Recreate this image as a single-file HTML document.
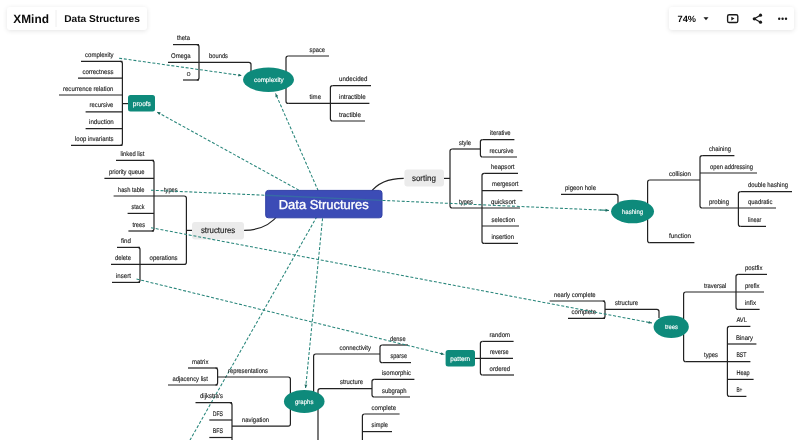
<!DOCTYPE html>
<html><head><meta charset="utf-8"><style>
html,body{margin:0;padding:0;width:800px;height:440px;overflow:hidden;background:#fff;}
body{position:relative;font-family:"Liberation Sans",sans-serif;}
svg{position:absolute;left:0;top:0;will-change:transform;}
svg text{font-family:"Liberation Sans",sans-serif;text-rendering:geometricPrecision;}
.bar{position:absolute;background:#fff;border-radius:3px;box-shadow:0 1px 5px rgba(0,0,0,0.11);}
</style></head><body>
<svg width="800" height="440" viewBox="0 0 800 440">
<path d="M324.00 204.00L157.00 112.00" stroke="#27857a" stroke-width="1.05" stroke-dasharray="3 1.8" fill="none"/>
<path d="M157.00 112.00L160.68 112.37L159.28 114.91Z" fill="#1e6b60"/>
<path d="M324.00 204.00L275.50 93.50" stroke="#27857a" stroke-width="1.05" stroke-dasharray="3 1.8" fill="none"/>
<path d="M275.50 93.50L278.19 96.03L275.54 97.20Z" fill="#1e6b60"/>
<path d="M324.00 204.00L305.60 388.00" stroke="#27857a" stroke-width="1.05" stroke-dasharray="3 1.8" fill="none"/>
<path d="M305.60 388.00L304.50 384.47L307.38 384.76Z" fill="#1e6b60"/>
<path d="M324.00 204.00L160.00 493.00" stroke="#27857a" stroke-width="1.05" stroke-dasharray="3 1.8" fill="none"/>
<path d="M120.20 61.40Q122.40 61.40 122.40 63.60V143.20Q122.40 145.40 120.20 145.40" fill="none" stroke="#222222" stroke-width="1.2"/>
<path d="M81.00 61.40H122.40" fill="none" stroke="#222222" stroke-width="1.2"/>
<text x="85.00" y="57.00" font-size="6.7" fill="#1c1c1c" font-weight="400" stroke="#1c1c1c" stroke-width="0.14" textLength="28.60" lengthAdjust="spacingAndGlyphs">complexity</text>
<path d="M78.00 78.20H122.40" fill="none" stroke="#222222" stroke-width="1.2"/>
<text x="82.40" y="73.80" font-size="6.7" fill="#1c1c1c" font-weight="400" stroke="#1c1c1c" stroke-width="0.14" textLength="31.00" lengthAdjust="spacingAndGlyphs">correctness</text>
<path d="M59.00 95.00H122.40" fill="none" stroke="#222222" stroke-width="1.2"/>
<text x="63.00" y="90.60" font-size="6.7" fill="#1c1c1c" font-weight="400" stroke="#1c1c1c" stroke-width="0.14" textLength="50.40" lengthAdjust="spacingAndGlyphs">recurrence relation</text>
<path d="M85.60 111.80H122.40" fill="none" stroke="#222222" stroke-width="1.2"/>
<text x="89.60" y="107.40" font-size="6.7" fill="#1c1c1c" font-weight="400" stroke="#1c1c1c" stroke-width="0.14" textLength="23.80" lengthAdjust="spacingAndGlyphs">recursive</text>
<path d="M85.60 128.60H122.40" fill="none" stroke="#222222" stroke-width="1.2"/>
<text x="89.00" y="124.20" font-size="6.7" fill="#1c1c1c" font-weight="400" stroke="#1c1c1c" stroke-width="0.14" textLength="24.80" lengthAdjust="spacingAndGlyphs">induction</text>
<path d="M71.00 145.40H122.40" fill="none" stroke="#222222" stroke-width="1.2"/>
<text x="75.00" y="141.00" font-size="6.7" fill="#1c1c1c" font-weight="400" stroke="#1c1c1c" stroke-width="0.14" textLength="38.40" lengthAdjust="spacingAndGlyphs">loop invariants</text>
<path d="M122.40 103.60H128.00" fill="none" stroke="#222222" stroke-width="1.2"/>
<rect x="128" y="95" width="27" height="16.6" rx="2.5" fill="#0e8a7b"/>
<text x="132.80" y="106.00" font-size="6.9" fill="#fff" font-weight="400" stroke="#fff" stroke-width="0.15" textLength="18.00" lengthAdjust="spacingAndGlyphs">proofs</text>
<path d="M196.80 44.60Q199.00 44.60 199.00 46.80V77.80Q199.00 80.00 196.80 80.00" fill="none" stroke="#222222" stroke-width="1.2"/>
<path d="M173.00 44.60H199.00" fill="none" stroke="#222222" stroke-width="1.2"/>
<text x="177.00" y="40.20" font-size="6.7" fill="#1c1c1c" font-weight="400" stroke="#1c1c1c" stroke-width="0.14" textLength="13.00" lengthAdjust="spacingAndGlyphs">theta</text>
<path d="M183.00 80.00H199.00" fill="none" stroke="#222222" stroke-width="1.2"/>
<text x="186.40" y="75.80" font-size="7.4" fill="#1c1c1c" font-weight="400" textLength="4.20" lengthAdjust="spacingAndGlyphs">o</text>
<text x="171.00" y="58.00" font-size="6.7" fill="#1c1c1c" font-weight="400" stroke="#1c1c1c" stroke-width="0.14" textLength="19.60" lengthAdjust="spacingAndGlyphs">Omega</text>
<path d="M168 62.4H248.80Q251 62.4 251 64.60V75" fill="none" stroke="#222222" stroke-width="1.2"/>
<text x="209.00" y="58.00" font-size="6.7" fill="#1c1c1c" font-weight="400" stroke="#1c1c1c" stroke-width="0.14" textLength="19.00" lengthAdjust="spacingAndGlyphs">bounds</text>
<path d="M288.20 56.00Q286.00 56.00 286.00 58.20V101.20Q286.00 103.40 288.20 103.40" fill="none" stroke="#222222" stroke-width="1.2"/>
<path d="M288.20 56.00H329.00" fill="none" stroke="#222222" stroke-width="1.2"/>
<text x="309.60" y="51.60" font-size="6.7" fill="#1c1c1c" font-weight="400" stroke="#1c1c1c" stroke-width="0.14" textLength="15.40" lengthAdjust="spacingAndGlyphs">space</text>
<path d="M288.20 103.40H369.40" fill="none" stroke="#222222" stroke-width="1.2"/>
<text x="309.60" y="99.00" font-size="6.7" fill="#1c1c1c" font-weight="400" stroke="#1c1c1c" stroke-width="0.14" textLength="11.40" lengthAdjust="spacingAndGlyphs">time</text>
<path d="M332.60 85.60Q330.40 85.60 330.40 87.80V118.80Q330.40 121.00 332.60 121.00" fill="none" stroke="#222222" stroke-width="1.2"/>
<path d="M332.60 85.60H371.00" fill="none" stroke="#222222" stroke-width="1.2"/>
<text x="339.00" y="81.20" font-size="6.7" fill="#1c1c1c" font-weight="400" stroke="#1c1c1c" stroke-width="0.14" textLength="28.40" lengthAdjust="spacingAndGlyphs">undecided</text>
<text x="339.00" y="99.00" font-size="6.7" fill="#1c1c1c" font-weight="400" stroke="#1c1c1c" stroke-width="0.14" textLength="26.60" lengthAdjust="spacingAndGlyphs">intractible</text>
<path d="M332.60 121.00H365.00" fill="none" stroke="#222222" stroke-width="1.2"/>
<text x="339.00" y="116.60" font-size="6.7" fill="#1c1c1c" font-weight="400" stroke="#1c1c1c" stroke-width="0.14" textLength="22.00" lengthAdjust="spacingAndGlyphs">tractible</text>
<ellipse cx="268.5" cy="79.7" rx="25.5" ry="12.2" fill="#0e8a7b"/>
<text x="254.00" y="81.90" font-size="6.5" fill="#fff" font-weight="400" stroke="#fff" stroke-width="0.15" textLength="29.70" lengthAdjust="spacingAndGlyphs">complexity</text>
<path d="M151.80 160.40Q154.00 160.40 154.00 162.60V228.80Q154.00 231.00 151.80 231.00" fill="none" stroke="#222222" stroke-width="1.2"/>
<path d="M116.00 160.40H154.00" fill="none" stroke="#222222" stroke-width="1.2"/>
<text x="120.40" y="156.00" font-size="6.7" fill="#1c1c1c" font-weight="400" stroke="#1c1c1c" stroke-width="0.14" textLength="24.00" lengthAdjust="spacingAndGlyphs">linked list</text>
<path d="M104.40 178.40H154.00" fill="none" stroke="#222222" stroke-width="1.2"/>
<text x="109.00" y="174.00" font-size="6.7" fill="#1c1c1c" font-weight="400" stroke="#1c1c1c" stroke-width="0.14" textLength="35.40" lengthAdjust="spacingAndGlyphs">priority queue</text>
<text x="118.00" y="191.60" font-size="6.7" fill="#1c1c1c" font-weight="400" stroke="#1c1c1c" stroke-width="0.14" textLength="26.40" lengthAdjust="spacingAndGlyphs">hash table</text>
<path d="M127.60 213.40H154.00" fill="none" stroke="#222222" stroke-width="1.2"/>
<text x="131.60" y="209.00" font-size="6.7" fill="#1c1c1c" font-weight="400" stroke="#1c1c1c" stroke-width="0.14" textLength="12.80" lengthAdjust="spacingAndGlyphs">stack</text>
<path d="M128.40 231.00H154.00" fill="none" stroke="#222222" stroke-width="1.2"/>
<text x="132.40" y="226.60" font-size="6.7" fill="#1c1c1c" font-weight="400" stroke="#1c1c1c" stroke-width="0.14" textLength="12.60" lengthAdjust="spacingAndGlyphs">trees</text>
<path d="M113.6 196H184.20Q186.4 196 186.4 198.20V262.20Q186.4 264.4 184.20 264.4H111" fill="none" stroke="#222222" stroke-width="1.2"/>
<text x="164.00" y="191.60" font-size="6.7" fill="#1c1c1c" font-weight="400" stroke="#1c1c1c" stroke-width="0.14" textLength="13.60" lengthAdjust="spacingAndGlyphs">types</text>
<text x="149.60" y="260.00" font-size="6.7" fill="#1c1c1c" font-weight="400" stroke="#1c1c1c" stroke-width="0.14" textLength="28.00" lengthAdjust="spacingAndGlyphs">operations</text>
<path d="M137.80 247.40Q140.00 247.40 140.00 249.60V280.20Q140.00 282.40 137.80 282.40" fill="none" stroke="#222222" stroke-width="1.2"/>
<path d="M117.00 247.40H140.00" fill="none" stroke="#222222" stroke-width="1.2"/>
<text x="121.00" y="243.00" font-size="6.7" fill="#1c1c1c" font-weight="400" stroke="#1c1c1c" stroke-width="0.14" textLength="10.00" lengthAdjust="spacingAndGlyphs">find</text>
<text x="115.00" y="260.00" font-size="6.7" fill="#1c1c1c" font-weight="400" stroke="#1c1c1c" stroke-width="0.14" textLength="16.00" lengthAdjust="spacingAndGlyphs">delete</text>
<path d="M112.00 282.40H140.00" fill="none" stroke="#222222" stroke-width="1.2"/>
<text x="116.00" y="278.00" font-size="6.7" fill="#1c1c1c" font-weight="400" stroke="#1c1c1c" stroke-width="0.14" textLength="15.00" lengthAdjust="spacingAndGlyphs">insert</text>
<path d="M186.40 230.40H192.00" fill="none" stroke="#222222" stroke-width="1.2"/>
<rect x="192" y="222" width="52" height="17.4" rx="3" fill="#ebebeb"/>
<text x="200.90" y="232.90" font-size="8.4" fill="#1c1c1c" font-weight="400" stroke="#1c1c1c" stroke-width="0.15" textLength="34.40" lengthAdjust="spacingAndGlyphs">structures</text>
<path d="M244.1 230.3C258 230.3 270 226 279 214" fill="none" stroke="#222222" stroke-width="1.2"/>
<path d="M403.7 178.3C390 178.3 378 182 370 193" fill="none" stroke="#222222" stroke-width="1.2"/>
<rect x="404.4" y="169.6" width="39.6" height="17" rx="3" fill="#ebebeb"/>
<text x="411.90" y="180.70" font-size="8.4" fill="#1c1c1c" font-weight="400" stroke="#1c1c1c" stroke-width="0.15" textLength="24.00" lengthAdjust="spacingAndGlyphs">sorting</text>
<path d="M444.00 178.40H450.00" fill="none" stroke="#222222" stroke-width="1.2"/>
<path d="M452.20 149.00Q450.00 149.00 450.00 151.20V205.80Q450.00 208.00 452.20 208.00" fill="none" stroke="#222222" stroke-width="1.2"/>
<path d="M452.20 149.00H480.40" fill="none" stroke="#222222" stroke-width="1.2"/>
<text x="459.00" y="144.60" font-size="6.7" fill="#1c1c1c" font-weight="400" stroke="#1c1c1c" stroke-width="0.14" textLength="12.00" lengthAdjust="spacingAndGlyphs">style</text>
<path d="M482.60 139.60Q480.40 139.60 480.40 141.80V154.80Q480.40 157.00 482.60 157.00" fill="none" stroke="#222222" stroke-width="1.2"/>
<path d="M482.60 139.60H514.40" fill="none" stroke="#222222" stroke-width="1.2"/>
<text x="490.00" y="135.20" font-size="6.7" fill="#1c1c1c" font-weight="400" stroke="#1c1c1c" stroke-width="0.14" textLength="20.60" lengthAdjust="spacingAndGlyphs">iterative</text>
<path d="M482.60 157.00H517.00" fill="none" stroke="#222222" stroke-width="1.2"/>
<text x="489.60" y="152.60" font-size="6.7" fill="#1c1c1c" font-weight="400" stroke="#1c1c1c" stroke-width="0.14" textLength="24.00" lengthAdjust="spacingAndGlyphs">recursive</text>
<path d="M452.20 208.00H520.00" fill="none" stroke="#222222" stroke-width="1.2"/>
<text x="459.00" y="203.60" font-size="6.7" fill="#1c1c1c" font-weight="400" stroke="#1c1c1c" stroke-width="0.14" textLength="14.00" lengthAdjust="spacingAndGlyphs">types</text>
<path d="M484.20 173.40Q482.00 173.40 482.00 175.60V241.20Q482.00 243.40 484.20 243.40" fill="none" stroke="#222222" stroke-width="1.2"/>
<path d="M484.20 173.40H518.00" fill="none" stroke="#222222" stroke-width="1.2"/>
<text x="491.00" y="169.00" font-size="6.7" fill="#1c1c1c" font-weight="400" stroke="#1c1c1c" stroke-width="0.14" textLength="23.40" lengthAdjust="spacingAndGlyphs">heapsort</text>
<path d="M482.00 190.60H522.40" fill="none" stroke="#222222" stroke-width="1.2"/>
<text x="492.00" y="186.20" font-size="6.7" fill="#1c1c1c" font-weight="400" stroke="#1c1c1c" stroke-width="0.14" textLength="26.40" lengthAdjust="spacingAndGlyphs">mergesort</text>
<text x="491.00" y="203.60" font-size="6.7" fill="#1c1c1c" font-weight="400" stroke="#1c1c1c" stroke-width="0.14" textLength="24.60" lengthAdjust="spacingAndGlyphs">quicksort</text>
<path d="M482.00 226.00H519.00" fill="none" stroke="#222222" stroke-width="1.2"/>
<text x="491.60" y="221.60" font-size="6.7" fill="#1c1c1c" font-weight="400" stroke="#1c1c1c" stroke-width="0.14" textLength="23.40" lengthAdjust="spacingAndGlyphs">selection</text>
<path d="M484.20 243.40H518.00" fill="none" stroke="#222222" stroke-width="1.2"/>
<text x="491.40" y="239.00" font-size="6.7" fill="#1c1c1c" font-weight="400" stroke="#1c1c1c" stroke-width="0.14" textLength="22.60" lengthAdjust="spacingAndGlyphs">insertion</text>
<path d="M561 194.4H615.80Q618 194.4 618 196.60V205" fill="none" stroke="#222222" stroke-width="1.2"/>
<text x="565.00" y="190.00" font-size="6.7" fill="#1c1c1c" font-weight="400" stroke="#1c1c1c" stroke-width="0.14" textLength="31.00" lengthAdjust="spacingAndGlyphs">pigeon hole</text>
<path d="M649.80 180.00Q647.60 180.00 647.60 182.20V240.40Q647.60 242.60 649.80 242.60" fill="none" stroke="#222222" stroke-width="1.2"/>
<path d="M649.80 180.00H700.00" fill="none" stroke="#222222" stroke-width="1.2"/>
<text x="669.00" y="175.60" font-size="6.7" fill="#1c1c1c" font-weight="400" stroke="#1c1c1c" stroke-width="0.14" textLength="22.00" lengthAdjust="spacingAndGlyphs">collision</text>
<path d="M649.80 242.60H694.40" fill="none" stroke="#222222" stroke-width="1.2"/>
<text x="669.00" y="238.20" font-size="6.7" fill="#1c1c1c" font-weight="400" stroke="#1c1c1c" stroke-width="0.14" textLength="22.00" lengthAdjust="spacingAndGlyphs">function</text>
<path d="M702.20 155.60Q700.00 155.60 700.00 157.80V205.80Q700.00 208.00 702.20 208.00" fill="none" stroke="#222222" stroke-width="1.2"/>
<path d="M702.20 155.60H734.40" fill="none" stroke="#222222" stroke-width="1.2"/>
<text x="709.00" y="151.20" font-size="6.7" fill="#1c1c1c" font-weight="400" stroke="#1c1c1c" stroke-width="0.14" textLength="22.00" lengthAdjust="spacingAndGlyphs">chaining</text>
<path d="M700.00 173.00H757.00" fill="none" stroke="#222222" stroke-width="1.2"/>
<text x="710.00" y="168.60" font-size="6.7" fill="#1c1c1c" font-weight="400" stroke="#1c1c1c" stroke-width="0.14" textLength="43.00" lengthAdjust="spacingAndGlyphs">open addressing</text>
<path d="M702.20 208.00H776.00" fill="none" stroke="#222222" stroke-width="1.2"/>
<text x="709.00" y="203.60" font-size="6.7" fill="#1c1c1c" font-weight="400" stroke="#1c1c1c" stroke-width="0.14" textLength="20.00" lengthAdjust="spacingAndGlyphs">probing</text>
<path d="M740.60 191.60Q738.40 191.60 738.40 193.80V224.20Q738.40 226.40 740.60 226.40" fill="none" stroke="#222222" stroke-width="1.2"/>
<path d="M740.60 191.60H792.00" fill="none" stroke="#222222" stroke-width="1.2"/>
<text x="748.00" y="187.20" font-size="6.7" fill="#1c1c1c" font-weight="400" stroke="#1c1c1c" stroke-width="0.14" textLength="40.00" lengthAdjust="spacingAndGlyphs">double hashing</text>
<text x="748.00" y="203.60" font-size="6.7" fill="#1c1c1c" font-weight="400" stroke="#1c1c1c" stroke-width="0.14" textLength="24.40" lengthAdjust="spacingAndGlyphs">quadratic</text>
<path d="M740.60 226.40H766.00" fill="none" stroke="#222222" stroke-width="1.2"/>
<text x="748.00" y="222.00" font-size="6.7" fill="#1c1c1c" font-weight="400" stroke="#1c1c1c" stroke-width="0.14" textLength="13.40" lengthAdjust="spacingAndGlyphs">linear</text>
<ellipse cx="632.55" cy="211.5" rx="21.5" ry="11.8" fill="#0e8a7b"/>
<text x="622.00" y="213.90" font-size="6.5" fill="#fff" font-weight="400" stroke="#fff" stroke-width="0.15" textLength="21.10" lengthAdjust="spacingAndGlyphs">hashing</text>
<path d="M602.80 301.00Q605.00 301.00 605.00 303.20V316.20Q605.00 318.40 602.80 318.40" fill="none" stroke="#222222" stroke-width="1.2"/>
<path d="M549.60 301.00H605.00" fill="none" stroke="#222222" stroke-width="1.2"/>
<text x="554.00" y="296.60" font-size="6.7" fill="#1c1c1c" font-weight="400" stroke="#1c1c1c" stroke-width="0.14" textLength="41.60" lengthAdjust="spacingAndGlyphs">nearly complete</text>
<path d="M568.00 318.40H605.00" fill="none" stroke="#222222" stroke-width="1.2"/>
<text x="571.60" y="314.00" font-size="6.7" fill="#1c1c1c" font-weight="400" stroke="#1c1c1c" stroke-width="0.14" textLength="24.40" lengthAdjust="spacingAndGlyphs">complete</text>
<path d="M605 309.4H656.80Q659 309.4 659 311.60V318" fill="none" stroke="#222222" stroke-width="1.2"/>
<text x="615.00" y="305.00" font-size="6.7" fill="#1c1c1c" font-weight="400" stroke="#1c1c1c" stroke-width="0.14" textLength="23.00" lengthAdjust="spacingAndGlyphs">structure</text>
<path d="M685.80 292.00Q683.60 292.00 683.60 294.20V359.40Q683.60 361.60 685.80 361.60" fill="none" stroke="#222222" stroke-width="1.2"/>
<path d="M685.80 292.00H764.00" fill="none" stroke="#222222" stroke-width="1.2"/>
<text x="704.00" y="287.60" font-size="6.7" fill="#1c1c1c" font-weight="400" stroke="#1c1c1c" stroke-width="0.14" textLength="22.40" lengthAdjust="spacingAndGlyphs">traversal</text>
<path d="M738.20 274.40Q736.00 274.40 736.00 276.60V307.20Q736.00 309.40 738.20 309.40" fill="none" stroke="#222222" stroke-width="1.2"/>
<path d="M738.20 274.40H767.00" fill="none" stroke="#222222" stroke-width="1.2"/>
<text x="745.00" y="270.00" font-size="6.7" fill="#1c1c1c" font-weight="400" stroke="#1c1c1c" stroke-width="0.14" textLength="17.40" lengthAdjust="spacingAndGlyphs">postfix</text>
<text x="745.00" y="287.60" font-size="6.7" fill="#1c1c1c" font-weight="400" stroke="#1c1c1c" stroke-width="0.14" textLength="14.60" lengthAdjust="spacingAndGlyphs">prefix</text>
<path d="M738.20 309.40H759.60" fill="none" stroke="#222222" stroke-width="1.2"/>
<text x="745.00" y="305.00" font-size="6.7" fill="#1c1c1c" font-weight="400" stroke="#1c1c1c" stroke-width="0.14" textLength="11.00" lengthAdjust="spacingAndGlyphs">infix</text>
<path d="M685.80 361.60H750.40" fill="none" stroke="#222222" stroke-width="1.2"/>
<text x="704.00" y="357.20" font-size="6.7" fill="#1c1c1c" font-weight="400" stroke="#1c1c1c" stroke-width="0.14" textLength="14.00" lengthAdjust="spacingAndGlyphs">types</text>
<path d="M729.60 326.40Q727.40 326.40 727.40 328.60V394.20Q727.40 396.40 729.60 396.40" fill="none" stroke="#222222" stroke-width="1.2"/>
<path d="M729.60 326.40H750.40" fill="none" stroke="#222222" stroke-width="1.2"/>
<text x="736.40" y="322.00" font-size="6.7" fill="#1c1c1c" font-weight="400" stroke="#1c1c1c" stroke-width="0.14" textLength="10.60" lengthAdjust="spacingAndGlyphs">AVL</text>
<path d="M727.40 344.00H756.40" fill="none" stroke="#222222" stroke-width="1.2"/>
<text x="736.00" y="339.60" font-size="6.7" fill="#1c1c1c" font-weight="400" stroke="#1c1c1c" stroke-width="0.14" textLength="17.00" lengthAdjust="spacingAndGlyphs">Binary</text>
<text x="736.40" y="357.20" font-size="6.7" fill="#1c1c1c" font-weight="400" stroke="#1c1c1c" stroke-width="0.14" textLength="10.00" lengthAdjust="spacingAndGlyphs">BST</text>
<path d="M727.40 379.40H753.60" fill="none" stroke="#222222" stroke-width="1.2"/>
<text x="736.40" y="375.00" font-size="6.7" fill="#1c1c1c" font-weight="400" stroke="#1c1c1c" stroke-width="0.14" textLength="13.20" lengthAdjust="spacingAndGlyphs">Heap</text>
<path d="M729.60 396.40H746.40" fill="none" stroke="#222222" stroke-width="1.2"/>
<text x="736.40" y="392.00" font-size="6.7" fill="#1c1c1c" font-weight="400" stroke="#1c1c1c" stroke-width="0.14" textLength="6.00" lengthAdjust="spacingAndGlyphs">B+</text>
<ellipse cx="671.2" cy="326.8" rx="17.65" ry="11.3" fill="#0e8a7b"/>
<text x="665.00" y="329.30" font-size="6.5" fill="#fff" font-weight="400" stroke="#fff" stroke-width="0.15" textLength="13.00" lengthAdjust="spacingAndGlyphs">trees</text>
<rect x="445.6" y="350" width="29.4" height="16.6" rx="2.5" fill="#0e8a7b"/>
<text x="450.30" y="360.80" font-size="6.6" fill="#fff" font-weight="400" stroke="#fff" stroke-width="0.15" textLength="19.80" lengthAdjust="spacingAndGlyphs">pattern</text>
<path d="M475.00 358.40H480.40" fill="none" stroke="#222222" stroke-width="1.2"/>
<path d="M482.60 341.40Q480.40 341.40 480.40 343.60V372.80Q480.40 375.00 482.60 375.00" fill="none" stroke="#222222" stroke-width="1.2"/>
<path d="M482.60 341.40H513.60" fill="none" stroke="#222222" stroke-width="1.2"/>
<text x="489.60" y="337.00" font-size="6.7" fill="#1c1c1c" font-weight="400" stroke="#1c1c1c" stroke-width="0.14" textLength="20.40" lengthAdjust="spacingAndGlyphs">random</text>
<path d="M480.40 358.40H513.00" fill="none" stroke="#222222" stroke-width="1.2"/>
<text x="490.00" y="354.00" font-size="6.7" fill="#1c1c1c" font-weight="400" stroke="#1c1c1c" stroke-width="0.14" textLength="18.60" lengthAdjust="spacingAndGlyphs">reverse</text>
<path d="M482.60 375.00H514.00" fill="none" stroke="#222222" stroke-width="1.2"/>
<text x="489.60" y="370.60" font-size="6.7" fill="#1c1c1c" font-weight="400" stroke="#1c1c1c" stroke-width="0.14" textLength="20.40" lengthAdjust="spacingAndGlyphs">ordered</text>
<path d="M217.6 377H288.20Q290.4 377 290.4 379.20V424.00Q290.4 426.2 288.20 426.2H232" fill="none" stroke="#222222" stroke-width="1.2"/>
<text x="228.00" y="372.60" font-size="6.7" fill="#1c1c1c" font-weight="400" stroke="#1c1c1c" stroke-width="0.14" textLength="40.00" lengthAdjust="spacingAndGlyphs">representations</text>
<text x="242.00" y="421.80" font-size="6.7" fill="#1c1c1c" font-weight="400" stroke="#1c1c1c" stroke-width="0.14" textLength="27.00" lengthAdjust="spacingAndGlyphs">navigation</text>
<path d="M215.40 368.00Q217.60 368.00 217.60 370.20V382.80Q217.60 385.00 215.40 385.00" fill="none" stroke="#222222" stroke-width="1.2"/>
<path d="M188.00 368.00H217.60" fill="none" stroke="#222222" stroke-width="1.2"/>
<text x="192.00" y="363.60" font-size="6.7" fill="#1c1c1c" font-weight="400" stroke="#1c1c1c" stroke-width="0.14" textLength="16.40" lengthAdjust="spacingAndGlyphs">matrix</text>
<path d="M168.00 385.00H217.60" fill="none" stroke="#222222" stroke-width="1.2"/>
<text x="172.40" y="380.60" font-size="6.7" fill="#1c1c1c" font-weight="400" stroke="#1c1c1c" stroke-width="0.14" textLength="35.60" lengthAdjust="spacingAndGlyphs">adjacency list</text>
<path d="M229.80 402.7Q232 402.7 232 404.90V445" fill="none" stroke="#222222" stroke-width="1.2"/>
<path d="M195.50 402.70H232.00" fill="none" stroke="#222222" stroke-width="1.2"/>
<text x="200.00" y="398.30" font-size="6.7" fill="#1c1c1c" font-weight="400" stroke="#1c1c1c" stroke-width="0.14" textLength="23.00" lengthAdjust="spacingAndGlyphs">dijkstra's</text>
<path d="M209.30 420.00H232.00" fill="none" stroke="#222222" stroke-width="1.2"/>
<text x="212.70" y="415.60" font-size="6.7" fill="#1c1c1c" font-weight="400" stroke="#1c1c1c" stroke-width="0.14" textLength="10.30" lengthAdjust="spacingAndGlyphs">DFS</text>
<path d="M209.30 437.50H232.00" fill="none" stroke="#222222" stroke-width="1.2"/>
<text x="212.70" y="433.10" font-size="6.7" fill="#1c1c1c" font-weight="400" stroke="#1c1c1c" stroke-width="0.14" textLength="10.30" lengthAdjust="spacingAndGlyphs">BFS</text>
<path d="M380 354H315.80Q313.6 354 313.6 356.20V395" fill="none" stroke="#222222" stroke-width="1.2"/>
<text x="339.60" y="349.60" font-size="6.7" fill="#1c1c1c" font-weight="400" stroke="#1c1c1c" stroke-width="0.14" textLength="31.40" lengthAdjust="spacingAndGlyphs">connectivity</text>
<path d="M382.20 345.00Q380.00 345.00 380.00 347.20V360.40Q380.00 362.60 382.20 362.60" fill="none" stroke="#222222" stroke-width="1.2"/>
<path d="M382.20 345.00H408.00" fill="none" stroke="#222222" stroke-width="1.2"/>
<text x="390.00" y="340.60" font-size="6.7" fill="#1c1c1c" font-weight="400" stroke="#1c1c1c" stroke-width="0.14" textLength="15.60" lengthAdjust="spacingAndGlyphs">dense</text>
<path d="M382.20 362.60H411.00" fill="none" stroke="#222222" stroke-width="1.2"/>
<text x="390.40" y="358.20" font-size="6.7" fill="#1c1c1c" font-weight="400" stroke="#1c1c1c" stroke-width="0.14" textLength="16.60" lengthAdjust="spacingAndGlyphs">sparse</text>
<path d="M372 388.6H320.20Q318 388.6 318 390.80V445" fill="none" stroke="#222222" stroke-width="1.2"/>
<text x="340.00" y="384.20" font-size="6.7" fill="#1c1c1c" font-weight="400" stroke="#1c1c1c" stroke-width="0.14" textLength="23.00" lengthAdjust="spacingAndGlyphs">structure</text>
<path d="M374.20 379.40Q372.00 379.40 372.00 381.60V394.80Q372.00 397.00 374.20 397.00" fill="none" stroke="#222222" stroke-width="1.2"/>
<path d="M374.20 379.40H414.40" fill="none" stroke="#222222" stroke-width="1.2"/>
<text x="382.00" y="375.00" font-size="6.7" fill="#1c1c1c" font-weight="400" stroke="#1c1c1c" stroke-width="0.14" textLength="29.00" lengthAdjust="spacingAndGlyphs">isomorphic</text>
<path d="M374.20 397.00H410.00" fill="none" stroke="#222222" stroke-width="1.2"/>
<text x="382.00" y="392.60" font-size="6.7" fill="#1c1c1c" font-weight="400" stroke="#1c1c1c" stroke-width="0.14" textLength="24.60" lengthAdjust="spacingAndGlyphs">subgraph</text>
<path d="M364.60 414Q362.4 414 362.4 416.20V445" fill="none" stroke="#222222" stroke-width="1.2"/>
<path d="M364.60 414.00H399.60" fill="none" stroke="#222222" stroke-width="1.2"/>
<text x="371.60" y="409.60" font-size="6.7" fill="#1c1c1c" font-weight="400" stroke="#1c1c1c" stroke-width="0.14" textLength="24.40" lengthAdjust="spacingAndGlyphs">complete</text>
<path d="M362.40 431.60H392.00" fill="none" stroke="#222222" stroke-width="1.2"/>
<text x="371.60" y="427.20" font-size="6.7" fill="#1c1c1c" font-weight="400" stroke="#1c1c1c" stroke-width="0.14" textLength="16.40" lengthAdjust="spacingAndGlyphs">simple</text>
<ellipse cx="304.25" cy="401.45" rx="20.3" ry="11.45" fill="#0e8a7b"/>
<text x="295.00" y="404.00" font-size="6.5" fill="#fff" font-weight="400" stroke="#fff" stroke-width="0.15" textLength="18.40" lengthAdjust="spacingAndGlyphs">graphs</text>
<rect x="265.7" y="190.4" width="116.3" height="27.4" rx="2.6" fill="#3c4cb6" stroke="#3140a6" stroke-width="1"/>
<text x="278.75" y="209.00" font-size="13" fill="#fff" font-weight="400" stroke="#fff" stroke-width="0.35" textLength="90.00" lengthAdjust="spacingAndGlyphs">Data Structures</text>
<path d="M119.10 58.20L241.80 75.60" stroke="#27857a" stroke-width="1.05" stroke-dasharray="3 1.8" fill="none"/>
<path d="M241.80 75.60L238.23 76.56L238.64 73.69Z" fill="#1e6b60"/>
<path d="M151 190.2L265.2 195.24" stroke="#27857a" stroke-width="1.05" stroke-dasharray="3 1.8" fill="none"/>
<path d="M265.2 195.24L382.5 200.41" stroke="#2f9a8c" stroke-opacity="0.4" stroke-width="1.3" fill="none"/>
<path d="M382.5 200.41L609 210.4" stroke="#27857a" stroke-width="1.05" stroke-dasharray="3 1.8" fill="none"/>
<path d="M600.00 210.00L609.00 210.40" stroke="#27857a" stroke-width="1.05" stroke-dasharray="3 1.8" fill="none"/>
<path d="M609.00 210.40L605.54 211.70L605.67 208.80Z" fill="#1e6b60"/>
<path d="M151.00 227.70L652.00 323.00" stroke="#27857a" stroke-width="1.05" stroke-dasharray="3 1.8" fill="none"/>
<path d="M652.00 323.00L648.39 323.79L648.93 320.94Z" fill="#1e6b60"/>
<path d="M136.50 279.00L444.40 354.40" stroke="#27857a" stroke-width="1.05" stroke-dasharray="3 1.8" fill="none"/>
<path d="M444.40 354.40L440.75 355.00L441.44 352.18Z" fill="#1e6b60"/>
</svg>
<div class="bar" style="left:7px;top:7px;width:139.5px;height:23.3px;"></div>
<div class="bar" style="left:669px;top:7px;width:125px;height:23px;"></div>
<svg width="800" height="40" viewBox="0 0 800 40" style="position:absolute;left:0;top:0">
<line x1="56" y1="10" x2="56" y2="27" stroke="#eeeeee" stroke-width="1"/>
<text x="13.3" y="22.6" font-size="12" font-weight="700" fill="#0d0d0d" textLength="35.6" lengthAdjust="spacingAndGlyphs">XMind</text>
<text x="64.2" y="22" font-size="10" font-weight="700" fill="#0d0d0d" textLength="75.6" lengthAdjust="spacingAndGlyphs">Data Structures</text>
<text x="677.5" y="22" font-size="9" font-weight="700" fill="#0d0d0d" textLength="18.5" lengthAdjust="spacingAndGlyphs">74%</text>
<path d="M703.5 17.3H708.5L706 20.3Z" fill="#1a1a1a"/>
<rect x="727.6" y="14.7" width="10.2" height="7.8" rx="1.6" fill="none" stroke="#1a1a1a" stroke-width="1.35"/>
<path d="M731.3 16.8V20.4L734.5 18.6Z" fill="#1a1a1a"/>
<path d="M760.5 15.2L754.3 18.8L760.5 22.2" fill="none" stroke="#1a1a1a" stroke-width="1.3"/>
<circle cx="760.5" cy="15.2" r="1.6" fill="#1a1a1a"/><circle cx="754.3" cy="18.8" r="1.6" fill="#1a1a1a"/><circle cx="760.5" cy="22.2" r="1.6" fill="#1a1a1a"/>
<circle cx="779.2" cy="18.8" r="1.2" fill="#1a1a1a"/><circle cx="782.6" cy="18.8" r="1.2" fill="#1a1a1a"/><circle cx="786" cy="18.8" r="1.2" fill="#1a1a1a"/>
</svg>
</body></html>
